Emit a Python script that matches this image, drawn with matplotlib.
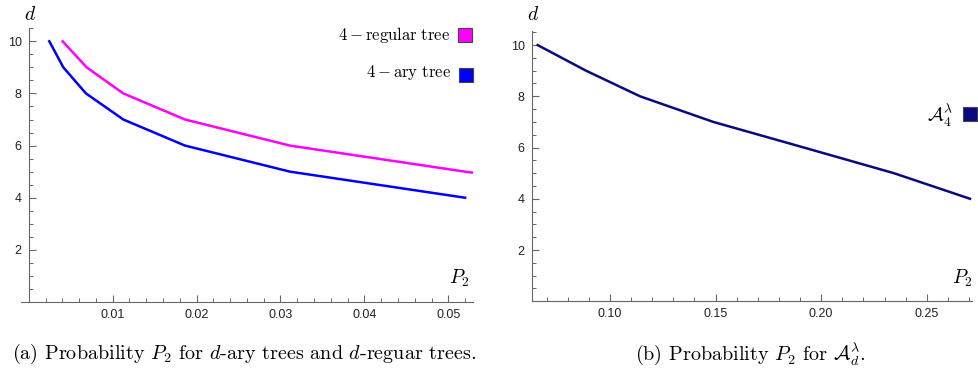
import matplotlib
matplotlib.use("Agg")
import matplotlib.pyplot as plt
from matplotlib.patches import Rectangle
from matplotlib.ticker import MultipleLocator

# values
d_vals = [10, 9, 8, 7, 6, 5, 4]
p2_ary = [0.00245, 0.00412, 0.00682, 0.01127, 0.01862, 0.03113, 0.0520]
p2_regular = [0.00404, 0.00690, 0.01127, 0.01862, 0.03113, 0.0520, 0.0750]
p2_lambda = [0.0657, 0.0886, 0.1142, 0.1489, 0.1918, 0.2344, 0.2705]

MAGENTA = "#ff00ff"
BLUE = "#0000ff"
NAVY = "#0a0a80"
AXC = "#666666"

plt.rcParams.update({"mathtext.fontset": "cm", "font.family": "Liberation Sans"})

W, H = 979, 372
fx = lambda px: px / W
fy = lambda py: 1 - py / H

fig = plt.figure(figsize=(9.79, 3.72), dpi=100)


def style(ax):
    for s in ("top", "right"):
        ax.spines[s].set_visible(False)
    for s in ("left", "bottom"):
        ax.spines[s].set_color(AXC)
        ax.spines[s].set_linewidth(0.8)
    ax.tick_params(which="major", direction="in", length=5, width=0.8, color=AXC,
                   labelsize=9, pad=5, labelcolor="#222")
    ax.tick_params(which="minor", direction="in", length=3, width=0.7, color=AXC)
    ax.yaxis.set_major_locator(MultipleLocator(2))
    ax.yaxis.set_minor_locator(MultipleLocator(0.5))
    ax.patch.set_visible(False)


# (a) d-ary vs d-regular trees
ax1 = fig.add_axes([fx(20.7), fy(302), fx(473.3) - fx(20.7), fy(28) - fy(302)])
ax1.plot(p2_regular, d_vals, color=MAGENTA, lw=1.8)
ax1.plot(p2_ary, d_vals, color=BLUE, lw=1.8)
ax1.set_xlim(-0.00096, 0.05298)
ax1.set_ylim(0, 10.51)
style(ax1)
ax1.spines["left"].set_position(("data", 0))
ax1.set_xticks([0.01, 0.02, 0.03, 0.04, 0.05])
ax1.set_xticklabels(["0.01", "0.02", "0.03", "0.04", "0.05"])
ax1.xaxis.set_minor_locator(MultipleLocator(0.002))
ax1.set_yticks([2, 4, 6, 8, 10])

# (b) A_d^lambda
ax2 = fig.add_axes([fx(531.7), fy(301.25), fx(971.7) - fx(531.7), fy(30.7) - fy(301.25)])
ax2.plot(p2_lambda, d_vals, color=NAVY, lw=1.8)
ax2.set_xlim(0.0629, 0.2713)
ax2.set_ylim(0, 10.56)
style(ax2)
ax2.set_xticks([0.10, 0.15, 0.20, 0.25])
ax2.set_xticklabels(["0.10", "0.15", "0.20", "0.25"])
ax2.xaxis.set_minor_locator(MultipleLocator(0.01))
ax2.set_yticks([2, 4, 6, 8, 10])

# axis labels
for x in (30, 533):
    fig.text(fx(x), fy(15), r"$d$", ha="center", va="center", fontsize=14)
for x in (459, 962):
    fig.text(fx(x), fy(278), r"$P_2$", ha="center", va="center", fontsize=14)

# legends
sq = 14
fig.text(fx(450.7), fy(35), r"$4-\mathrm{regular\ tree}$", ha="right", va="center", fontsize=12)
fig.add_artist(Rectangle((fx(458), fy(42)), sq / W, sq / H, transform=fig.transFigure,
                         fc=MAGENTA, ec="#444", lw=0.8))
fig.text(fx(450.7), fy(73), r"$4-\mathrm{ary\ tree}$", ha="right", va="center", fontsize=12)
fig.add_artist(Rectangle((fx(459), fy(82)), sq / W, sq / H, transform=fig.transFigure,
                         fc=BLUE, ec="#444", lw=0.8))
fig.text(fx(953), fy(116), r"$\mathcal{A}_4^\lambda$", ha="right", va="center", fontsize=14)
fig.add_artist(Rectangle((fx(963), fy(121)), sq / W, sq / H, transform=fig.transFigure,
                         fc=NAVY, ec="#444", lw=0.8))

# captions
fig.text(fx(244), fy(354), "(a) Probability $P_2$ for $d$-ary trees and $d$-reguar trees.",
         family="cmr10", fontsize=14.5, ha="center", va="center")
fig.text(fx(750), fy(354), r"(b) Probability $P_2$ for $\mathcal{A}_d^\lambda$.",
         family="cmr10", fontsize=14.5, ha="center", va="center")

fig.savefig("out.png", dpi=100)
